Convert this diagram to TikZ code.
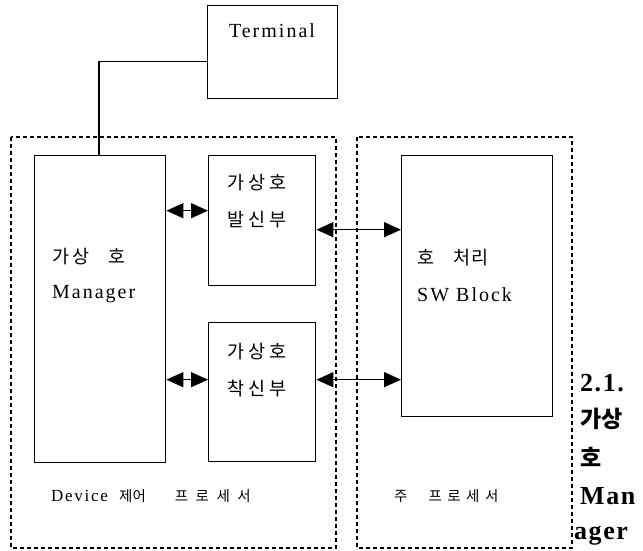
\documentclass[tikz,border=0pt]{standalone}
\usepackage{fontspec}
\setmainfont{Liberation Serif}
\newfontfamily\ls[LetterSpace=10]{Liberation Serif}
\newfontfamily\lsb[LetterSpace=6]{Liberation Serif}
\newfontfamily\kr{Noto Sans CJK KR}
\usetikzlibrary{arrows.meta}
\newcommand{\g}{\hspace{3.5pt}}
\tikzset{
  box/.style={draw, line width=1.4pt, anchor=north west, inner sep=0pt},
  zone/.style={draw, line width=1.1pt, dash pattern=on 4pt off 3pt},
  lbl/.style={font=\ls\fontsize{20}{22}\selectfont, inner sep=0pt},
  krl/.style={font=\kr\fontsize{18.5}{21}\selectfont, inner sep=0pt},
  zlbl/.style={font=\ls\fontsize{17}{20}\selectfont, inner sep=0pt, anchor=west},
  zkr/.style={font=\kr\fontsize{14.5}{18}\selectfont, inner sep=0pt, anchor=west},
  captxt/.style={font=\lsb\fontsize{26}{28}\selectfont\bfseries, inner sep=0pt, anchor=west},
  link/.style={line width=1.4pt},
  dbl/.style={line width=1.5pt, {Triangle[length=17pt,width=15pt]}-{Triangle[length=17pt,width=15pt]}}
}
\begin{document}
\begin{tikzpicture}[x=1pt,y=-1pt]
\useasboundingbox (0,0) rectangle (643,551);
% processor zones
\draw[zone] (11,137) rectangle (336,548);
\draw[zone] (357,137) rectangle (572,548);
% blocks
\node[box, minimum width=130pt, minimum height=93pt] (term) at (207,5) {};
\node[box, minimum width=131pt, minimum height=307pt] (mgr) at (34,155) {};
\node[box, minimum width=107pt, minimum height=130pt] (bal) at (208,155) {};
\node[box, minimum width=107pt, minimum height=139pt] (chak) at (208,322) {};
\node[box, minimum width=151pt, minimum height=261pt] (sw) at (401,155) {};
% block texts
\node[lbl] (termtxt) at (272,31) {Terminal};
\node[krl, anchor=west] (mgrt1) at (52,257) {가\g 상\hspace{19pt}호};
\node[lbl, anchor=west] (mgrt2) at (52,294) {Manager};
\node[krl] (balt1) at (257,183) {가\g 상\g 호};
\node[krl] (balt2) at (257,220) {발\g 신\g 부};
\node[krl] (chakt1) at (257,352) {가\g 상\g 호};
\node[krl] (chakt2) at (257,389) {착\g 신\g 부};
\node[krl, anchor=west] (swt1) at (417,258) {호\hspace{19pt}처\hspace{1pt}리};
\node[lbl, anchor=west] (swt2) at (417,295) {SW Block};
% zone texts
\node[zlbl] (devz) at (51,496) {Device};
\node[zkr] (devk) at (119,496) {제어\hspace{29pt}프\hspace{7.5pt}로\hspace{7.5pt}세\hspace{7.5pt}서};
\node[zkr] (mainz) at (394,496) {주\hspace{21pt}프\hspace{5.5pt}로\hspace{5.5pt}세\hspace{5.5pt}서};
% caption fragments
\node[captxt] (c1) at (580,383) {2.1.};
\node[captxt] (c2) at (580,419) {\kr\bfseries\fontsize{23}{26}\selectfont 가상};
\node[captxt] (c3) at (580,457) {\kr\bfseries\fontsize{23}{26}\selectfont 호};
\node[captxt] (c4) at (580,496) {Man};
\node[captxt] (c5) at (574,536) {ager};
% connectors
\coordinate (tl) at ([yshift=-9.5pt]term.west);
\coordinate (mtop) at (99,155);
\draw[link] (tl) -| (mtop);
\coordinate (a1) at ([yshift=10pt]bal.west);
\draw[dbl] (mgr.east |- a1) -- (a1);
\coordinate (a2) at ([yshift=-9pt]bal.east);
\draw[dbl] (a2) -- (sw.west |- a2);
\coordinate (a3) at ([yshift=12.5pt]chak.west);
\draw[dbl] (mgr.east |- a3) -- (a3);
\coordinate (a4) at ([yshift=12.5pt]chak.east);
\draw[dbl] (a4) -- (sw.west |- a4);
\end{tikzpicture}
\end{document}
